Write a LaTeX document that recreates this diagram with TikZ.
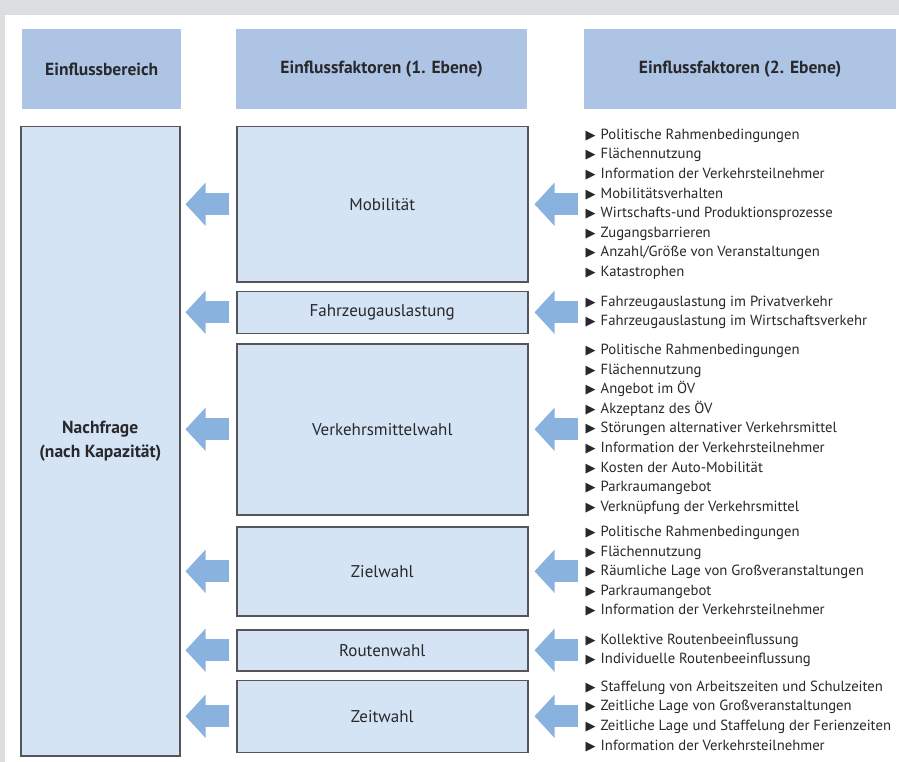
\documentclass[tikz,border=0pt]{standalone}
\usepackage{fontspec}
\setmainfont{PT Sans}
\newfontfamily\symfont{DejaVu Sans}
\usetikzlibrary{positioning, arrows.meta}

\definecolor{grund}{RGB}{220,221,223}
\definecolor{kopfblau}{RGB}{173,196,228}
\definecolor{feldblau}{RGB}{212,228,244}
\definecolor{pfeilblau}{RGB}{138,178,222}
\definecolor{randgrau}{RGB}{85,85,90}
\definecolor{schrift}{RGB}{40,40,45}

\newcommand{\pkt}{\makebox[15pt][l]{\fontsize{13}{10}\symfont ▶}}

\tikzset{
  kopf/.style={fill=kopfblau, text=schrift, font=\fontsize{17.5}{21}\selectfont\bfseries, minimum height=80pt, anchor=north west, inner sep=0pt},
  feld/.style={draw=randgrau, line width=1.5pt, fill=feldblau, text=schrift, font=\fontsize{17}{21}\selectfont, inner sep=0pt, align=center},
  spalte/.style={feld, minimum width=291pt},
  liste/.style={align=left, inner sep=0pt, text=schrift, font=\fontsize{14.7}{19.6}\selectfont},
  pfeil/.style={draw=pfeilblau, line width=22pt, -{Triangle[length=20pt, width=42pt]}}
}

\begin{document}
\begin{tikzpicture}[x=1pt, y=-1pt]
  \fill[grund] (0,0) rectangle (899,762);
  \fill[white] (5,15) rectangle (899,762);

  % Kopfzeile
  \node[kopf, minimum width=159pt] (kopfa) at (22,29) {Einflussbereich};
  \node[kopf, minimum width=291pt] (kopfb) at (236,29) {Einflussfaktoren (1. Ebene)};
  \node[kopf, minimum width=312pt] (kopfc) at (584,29) {Einflussfaktoren (2. Ebene)};

  % Einflussbereich
  \node[feld, anchor=north west, minimum width=159pt, minimum height=629pt, font=\fontsize{17.5}{24}\selectfont\bfseries] (nachfrage) at (20,126) {Nachfrage\\(nach Kapazität)};

  % Einflussfaktoren 1. Ebene
  \node[spalte, anchor=north west, minimum height=155pt] (mob) at (236,126) {Mobilität};
  \node[spalte, below=8pt of mob, minimum height=42pt] (fzg) {Fahrzeugauslastung};
  \node[spalte, below=9pt of fzg, minimum height=171pt] (vmw) {Verkehrsmittelwahl};
  \node[spalte, below=10.5pt of vmw, minimum height=89pt] (ziel) {Zielwahl};
  \node[spalte, below=12.5pt of ziel, minimum height=41pt] (route) {Routenwahl};
  \node[spalte, below=8pt of route, minimum height=72pt] (zeit) {Zeitwahl};

  % Einflussfaktoren 2. Ebene
  \node[liste, right=57pt of mob] (mobl) {\pkt Politische Rahmenbedingungen\\
    \pkt Flächennutzung\\
    \pkt Information der Verkehrsteilnehmer\\
    \pkt Mobilitätsverhalten\\
    \pkt Wirtschafts-und Produktionsprozesse\\
    \pkt Zugangsbarrieren\\
    \pkt Anzahl/Größe von Veranstaltungen\\
    \pkt Katastrophen};
  \node[liste, right=57pt of fzg] (fzgl) {\pkt Fahrzeugauslastung im Privatverkehr\\
    \pkt Fahrzeugauslastung im Wirtschaftsverkehr};
  \node[liste, right=57pt of vmw] (vmwl) {\pkt Politische Rahmenbedingungen\\
    \pkt Flächennutzung\\
    \pkt Angebot im ÖV\\
    \pkt Akzeptanz des ÖV\\
    \pkt Störungen alternativer Verkehrsmittel\\
    \pkt Information der Verkehrsteilnehmer\\
    \pkt Kosten der Auto-Mobilität\\
    \pkt Parkraumangebot\\
    \pkt Verknüpfung der Verkehrsmittel};
  \node[liste, right=57pt of ziel] (ziell) {\pkt Politische Rahmenbedingungen\\
    \pkt Flächennutzung\\
    \pkt Räumliche Lage von Großveranstaltungen\\
    \pkt Parkraumangebot\\
    \pkt Information der Verkehrsteilnehmer};
  \node[liste, right=57pt of route] (routel) {\pkt Kollektive Routenbeeinflussung\\
    \pkt Individuelle Routenbeeinflussung};
  \node[liste, right=57pt of zeit] (zeitl) {\pkt Staffelung von Arbeitszeiten und Schulzeiten\\
    \pkt Zeitliche Lage von Großveranstaltungen\\
    \pkt Zeitliche Lage und Staffelung der Ferienzeiten\\
    \pkt Information der Verkehrsteilnehmer};

  % Pfeile rechts
  \draw[pfeil, shorten <=8pt, shorten >=6pt] (mobl.west) -- (mob.east);
  \draw[pfeil, shorten <=8pt, shorten >=6pt] (fzgl.west) -- (fzg.east);
  \draw[pfeil, shorten <=8pt, shorten >=6pt] (vmwl.west) -- (vmw.east);
  \draw[pfeil, shorten <=8pt, shorten >=6pt] (ziell.west) -- (ziel.east);
  \draw[pfeil, shorten <=8pt, shorten >=6pt] (routel.west) -- (route.east);
  \draw[pfeil, shorten <=8pt, shorten >=6pt] (zeitl.west) -- (zeit.east);

  % Pfeile links
  \draw[pfeil, shorten <=7pt, shorten >=5pt] (mob.west) -- (mob.west -| nachfrage.east);
  \draw[pfeil, shorten <=7pt, shorten >=5pt] (fzg.west) -- (fzg.west -| nachfrage.east);
  \draw[pfeil, shorten <=7pt, shorten >=5pt] (vmw.west) -- (vmw.west -| nachfrage.east);
  \draw[pfeil, shorten <=7pt, shorten >=5pt] (ziel.west) -- (ziel.west -| nachfrage.east);
  \draw[pfeil, shorten <=7pt, shorten >=5pt] (route.west) -- (route.west -| nachfrage.east);
  \draw[pfeil, shorten <=7pt, shorten >=5pt] (zeit.west) -- (zeit.west -| nachfrage.east);
\end{tikzpicture}
\end{document}
